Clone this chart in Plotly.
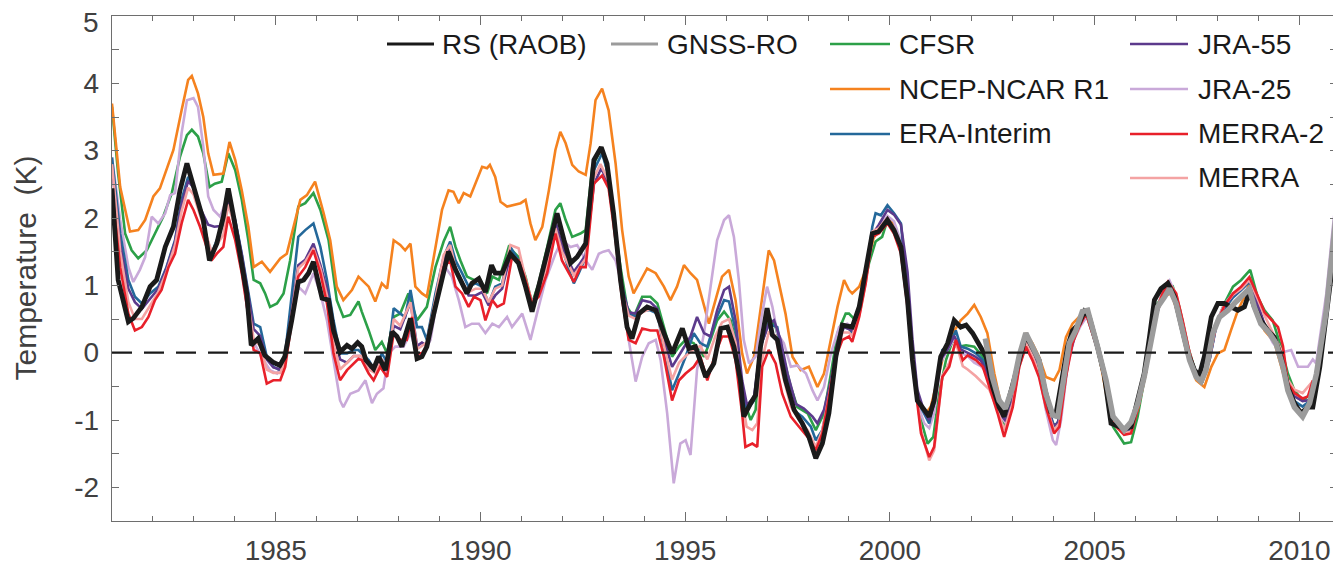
import plotly.graph_objects as go

# ---------------- data (year, temperature anomaly K) ----------------
rs_raob = [(1981.0, 2.44), (1981.15, 1.08), (1981.4, 0.46), (1981.52, 0.51), (1981.73, 0.68), (1981.93, 0.98),
    (1982.09, 1.08), (1982.3, 1.57), (1982.5, 1.87), (1982.66, 2.41), (1982.83, 2.81), (1982.95, 2.56),
    (1983.07, 2.32), (1983.23, 1.97), (1983.38, 1.37), (1983.56, 1.62), (1983.72, 2.02), (1983.84, 2.44),
    (1983.97, 2.02), (1984.13, 1.47), (1984.29, 0.88), (1984.4, 0.11), (1984.57, 0.21), (1984.73, -0.04),
    (1984.93, -0.14), (1985.1, -0.19), (1985.22, -0.06), (1985.39, 0.48), (1985.55, 1.05), (1985.68, 1.08),
    (1985.8, 1.18), (1985.92, 1.35), (1986.04, 1.08), (1986.13, 0.81), (1986.29, 0.78), (1986.41, 0.33),
    (1986.57, 0.01), (1986.74, 0.11), (1986.86, 0.06), (1987.0, 0.15), (1987.1, 0.09), (1987.2, -0.11),
    (1987.39, -0.24), (1987.51, -0.06), (1987.68, -0.26), (1987.84, 0.31), (1987.96, 0.24), (1988.08, 0.09),
    (1988.29, 0.51), (1988.45, -0.09), (1988.57, -0.06), (1988.69, 0.09), (1988.86, 0.58), (1989.06, 1.13),
    (1989.22, 1.5), (1989.39, 1.23), (1989.51, 1.08), (1989.67, 0.88), (1989.79, 1.03), (1989.96, 1.1),
    (1990.12, 0.9), (1990.27, 1.3), (1990.36, 1.18), (1990.53, 1.18), (1990.73, 1.47), (1990.93, 1.33),
    (1991.1, 0.98), (1991.26, 0.61), (1991.42, 0.98), (1991.63, 1.52), (1991.87, 2.07), (1992.04, 1.67),
    (1992.2, 1.33), (1992.36, 1.42), (1992.57, 1.62), (1992.77, 2.86), (1992.95, 3.05), (1993.09, 2.81),
    (1993.25, 2.07), (1993.42, 1.08), (1993.58, 0.38), (1993.7, 0.21), (1993.87, 0.58), (1994.07, 0.68),
    (1994.28, 0.63), (1994.48, 0.29), (1994.68, -0.01), (1994.93, 0.36), (1995.09, 0.06), (1995.25, 0.09),
    (1995.5, -0.36), (1995.7, -0.16), (1995.87, 0.36), (1996.03, 0.38), (1996.19, 0.09), (1996.35, -0.41),
    (1996.43, -0.95), (1996.6, -0.75), (1996.72, -0.63), (1996.84, 0.09), (1997.0, 0.66), (1997.13, 0.26),
    (1997.25, 0.19), (1997.45, -0.41), (1997.66, -0.85), (1997.86, -1.05), (1998.02, -1.25), (1998.19, -1.57),
    (1998.35, -1.35), (1998.51, -0.9), (1998.68, -0.06), (1998.84, 0.41), (1999.0, 0.38), (1999.08, 0.38),
    (1999.25, 0.68), (1999.41, 1.18), (1999.57, 1.77), (1999.73, 1.8), (1999.94, 1.97), (2000.1, 1.82),
    (2000.27, 1.57), (2000.43, 0.78), (2000.55, -0.11), (2000.67, -0.71), (2000.84, -0.85), (2000.96, -0.95),
    (2001.08, -0.71), (2001.24, -0.06), (2001.41, 0.14), (2001.57, 0.48), (2001.73, 0.38), (2001.86, 0.41),
    (2002.02, 0.29), (2002.18, 0.11), (2002.35, -0.06), (2002.51, -0.51), (2002.67, -0.81), (2002.79, -0.95),
    (2002.95, -0.61), (2003.16, -0.11), (2003.32, 0.26), (2003.48, 0.09), (2003.64, -0.11), (2003.77, -0.51),
    (2003.93, -0.88), (2004.05, -0.93), (2004.18, -0.51), (2004.34, 0.09), (2004.46, 0.33), (2004.62, 0.43),
    (2004.75, 0.61), (2004.87, 0.53), (2005.07, 0.09), (2005.23, -0.31), (2005.4, -1.05), (2005.56, -1.1),
    (2005.72, -1.13), (2005.89, -1.1), (2006.05, -0.71), (2006.21, -0.31), (2006.34, 0.23), (2006.46, 0.78),
    (2006.62, 0.95), (2006.79, 1.03), (2006.95, 0.83), (2007.11, 0.43), (2007.28, -0.01), (2007.44, -0.26),
    (2007.56, -0.33), (2007.68, -0.06), (2007.85, 0.53), (2008.01, 0.73), (2008.17, 0.73), (2008.33, 0.68),
    (2008.5, 0.63), (2008.66, 0.68), (2008.78, 0.9), (2008.9, 0.68), (2009.06, 0.48), (2009.23, 0.33),
    (2009.39, 0.23), (2009.55, -0.06), (2009.72, -0.51), (2009.88, -0.75), (2010.04, -0.9), (2010.21, -0.81),
    (2010.33, -0.81), (2010.5, -0.21), (2010.66, 0.58), (2010.82, 1.37), (2010.99, 2.17)]

gnss_ro = [(2002.33, 0.21), (2002.5, -0.36), (2002.67, -0.71), (2002.82, -0.83), (2003.0, -0.51), (2003.16, -0.04),
    (2003.32, 0.29), (2003.48, 0.11), (2003.64, -0.11), (2003.81, -0.61), (2003.98, -0.93), (2004.1, -0.95),
    (2004.22, -0.51), (2004.38, 0.14), (2004.54, 0.33), (2004.7, 0.61), (2004.83, 0.63), (2004.99, 0.29),
    (2005.07, 0.09), (2005.28, -0.41), (2005.45, -0.95), (2005.56, -1.03), (2005.72, -1.15), (2005.89, -1.03),
    (2006.05, -0.76), (2006.21, -0.36), (2006.38, 0.23), (2006.54, 0.68), (2006.71, 0.83), (2006.83, 0.95),
    (2006.99, 0.73), (2007.15, 0.33), (2007.32, -0.11), (2007.48, -0.36), (2007.6, -0.43), (2007.72, -0.26),
    (2007.89, 0.29), (2008.05, 0.53), (2008.26, 0.63), (2008.46, 0.76), (2008.66, 0.88), (2008.78, 0.95),
    (2008.9, 0.68), (2009.06, 0.43), (2009.27, 0.29), (2009.43, 0.14), (2009.6, -0.21), (2009.72, -0.56),
    (2009.88, -0.81), (2010.08, -0.95), (2010.25, -0.75), (2010.42, -0.31), (2010.66, 0.63), (2010.82, 1.57),
    (2011.0, 2.66)]

cfsr = [(1981.0, 3.65), (1981.15, 2.66), (1981.32, 1.77), (1981.48, 1.52), (1981.64, 1.4), (1981.85, 1.52),
    (1982.05, 1.77), (1982.25, 2.02), (1982.46, 2.37), (1982.66, 2.91), (1982.83, 3.23), (1982.95, 3.31),
    (1983.1, 3.21), (1983.23, 2.96), (1983.38, 2.46), (1983.51, 2.51), (1983.68, 2.54), (1983.84, 2.96),
    (1984.01, 2.71), (1984.17, 2.27), (1984.33, 1.67), (1984.46, 1.08), (1984.62, 1.03), (1984.74, 0.88),
    (1984.86, 0.68), (1985.03, 0.73), (1985.19, 0.88), (1985.35, 1.37), (1985.55, 2.17), (1985.72, 2.22),
    (1985.92, 2.37), (1986.09, 2.12), (1986.29, 1.67), (1986.49, 0.78), (1986.65, 0.53), (1986.82, 0.56),
    (1987.02, 0.76), (1987.1, 0.61), (1987.27, 0.33), (1987.43, 0.04), (1987.59, 0.16), (1987.72, -0.01),
    (1987.88, 0.53), (1988.04, 0.58), (1988.24, 0.88), (1988.45, 0.48), (1988.57, 0.58), (1988.69, 0.68),
    (1988.9, 1.27), (1989.1, 1.65), (1989.26, 1.87), (1989.39, 1.57), (1989.51, 1.37), (1989.67, 1.13),
    (1989.84, 1.08), (1990.0, 1.08), (1990.16, 0.88), (1990.29, 1.13), (1990.45, 1.08), (1990.69, 1.57),
    (1990.93, 1.42), (1991.1, 1.13), (1991.26, 0.73), (1991.42, 1.03), (1991.63, 1.57), (1991.83, 2.12),
    (1991.95, 2.22), (1992.08, 1.97), (1992.24, 1.72), (1992.44, 1.77), (1992.57, 1.82), (1992.73, 2.76),
    (1992.89, 2.96), (1992.97, 3.01), (1993.09, 2.71), (1993.25, 1.97), (1993.42, 1.27), (1993.58, 0.68),
    (1993.74, 0.53), (1993.95, 0.83), (1994.15, 0.83), (1994.32, 0.73), (1994.48, 0.38), (1994.68, -0.06),
    (1994.85, 0.09), (1995.01, 0.19), (1995.21, 0.14), (1995.46, -0.06), (1995.62, 0.19), (1995.78, 0.48),
    (1995.95, 0.61), (1996.11, 0.48), (1996.27, 0.09), (1996.43, -0.71), (1996.6, -1.0), (1996.72, -0.85),
    (1996.84, 0.09), (1997.04, 0.53), (1997.21, 0.38), (1997.37, -0.01), (1997.58, -0.51), (1997.74, -0.81),
    (1997.99, -0.9), (1998.19, -1.15), (1998.39, -0.9), (1998.56, -0.31), (1998.72, 0.29), (1998.92, 0.58),
    (1999.0, 0.58), (1999.16, 0.48), (1999.33, 0.88), (1999.49, 1.33), (1999.65, 1.65), (1999.81, 1.72),
    (1999.94, 1.97), (2000.1, 1.85), (2000.27, 1.62), (2000.43, 0.78), (2000.59, -0.31), (2000.76, -1.0),
    (2000.92, -1.35), (2001.06, -1.25), (2001.2, -0.61), (2001.37, -0.11), (2001.54, 0.19), (2001.7, 0.09),
    (2001.86, 0.11), (2002.06, 0.09), (2002.27, -0.06), (2002.43, -0.31), (2002.59, -0.71), (2002.75, -1.0),
    (2002.84, -1.1), (2003.0, -0.71), (2003.16, -0.11), (2003.32, 0.21), (2003.48, 0.04), (2003.64, -0.21),
    (2003.81, -0.71), (2003.98, -1.05), (2004.1, -1.1), (2004.22, -0.71), (2004.38, -0.01), (2004.54, 0.29),
    (2004.7, 0.51), (2004.83, 0.56), (2004.99, 0.24), (2005.07, 0.04), (2005.28, -0.51), (2005.45, -1.1),
    (2005.72, -1.35), (2005.89, -1.33), (2006.05, -0.95), (2006.21, -0.41), (2006.38, 0.23), (2006.54, 0.73),
    (2006.75, 0.93), (2006.91, 0.98), (2007.07, 0.68), (2007.28, 0.09), (2007.48, -0.31), (2007.64, -0.41),
    (2007.81, -0.06), (2007.97, 0.43), (2008.17, 0.73), (2008.38, 0.98), (2008.58, 1.08), (2008.8, 1.23),
    (2008.98, 0.83), (2009.15, 0.63), (2009.35, 0.48), (2009.55, 0.09), (2009.72, -0.31), (2009.88, -0.56),
    (2010.08, -0.71), (2010.29, -0.61), (2010.5, -0.16), (2010.66, 0.63), (2010.82, 1.42), (2010.99, 2.22)]

ncep_ncar_r1 = [(1981.0, 3.7), (1981.2, 2.46), (1981.44, 1.8), (1981.64, 1.82), (1981.81, 1.97), (1982.01, 2.32),
    (1982.17, 2.44), (1982.33, 2.71), (1982.5, 3.01), (1982.7, 3.6), (1982.86, 4.05), (1982.95, 4.11),
    (1983.1, 3.85), (1983.23, 3.5), (1983.35, 2.96), (1983.48, 2.64), (1983.72, 2.66), (1983.87, 3.13),
    (1984.01, 2.86), (1984.17, 2.41), (1984.33, 1.87), (1984.46, 1.27), (1984.66, 1.35), (1984.86, 1.2),
    (1985.11, 1.4), (1985.27, 1.47), (1985.43, 1.85), (1985.6, 2.27), (1985.76, 2.34), (1985.96, 2.54),
    (1986.17, 2.07), (1986.33, 1.67), (1986.49, 0.98), (1986.65, 0.78), (1986.86, 0.93), (1987.02, 1.13),
    (1987.27, 0.98), (1987.43, 0.76), (1987.59, 1.03), (1987.72, 0.95), (1987.88, 1.67), (1988.04, 1.6),
    (1988.16, 1.52), (1988.29, 1.62), (1988.41, 0.98), (1988.57, 0.88), (1988.69, 0.83), (1988.9, 1.57),
    (1989.06, 2.12), (1989.22, 2.41), (1989.34, 2.39), (1989.47, 2.22), (1989.59, 2.37), (1989.75, 2.32),
    (1989.88, 2.51), (1990.04, 2.76), (1990.16, 2.74), (1990.23, 2.79), (1990.36, 2.61), (1990.49, 2.24),
    (1990.65, 2.17), (1990.81, 2.19), (1990.98, 2.22), (1991.1, 2.27), (1991.22, 1.92), (1991.34, 1.67),
    (1991.51, 1.87), (1991.67, 2.41), (1991.83, 3.01), (1991.95, 3.28), (1992.08, 3.11), (1992.24, 2.79),
    (1992.4, 2.69), (1992.57, 2.64), (1992.69, 3.11), (1992.81, 3.75), (1992.97, 3.92), (1993.13, 3.6),
    (1993.3, 2.81), (1993.46, 1.82), (1993.62, 1.13), (1993.74, 0.88), (1993.91, 1.08), (1994.07, 1.25),
    (1994.28, 1.18), (1994.48, 0.98), (1994.64, 0.78), (1994.8, 0.98), (1994.97, 1.3), (1995.13, 1.18),
    (1995.29, 1.08), (1995.46, 0.68), (1995.58, 0.43), (1995.74, 0.78), (1995.9, 1.13), (1996.07, 1.23),
    (1996.23, 0.78), (1996.39, -0.01), (1996.51, -0.31), (1996.68, -0.06), (1996.84, 0.68), (1997.04, 1.52),
    (1997.17, 1.37), (1997.29, 1.03), (1997.45, 0.58), (1997.62, -0.06), (1997.82, -0.26), (1998.02, -0.21),
    (1998.23, -0.51), (1998.39, -0.31), (1998.56, 0.19), (1998.72, 0.68), (1998.88, 1.08), (1999.0, 0.93),
    (1999.08, 0.88), (1999.25, 0.98), (1999.41, 1.23), (1999.6, 1.7), (1999.75, 1.85), (1999.94, 2.0),
    (2000.1, 1.9), (2000.27, 1.55), (2000.43, 0.8), (2000.55, -0.16), (2000.7, -0.7), (2000.88, -0.9),
    (2001.0, -0.8), (2001.28, -0.11), (2001.54, 0.29), (2001.73, 0.48), (2001.9, 0.58), (2002.06, 0.71),
    (2002.22, 0.53), (2002.38, 0.29), (2002.55, -0.31), (2002.71, -0.76), (2002.84, -0.85), (2003.0, -0.46),
    (2003.16, -0.06), (2003.32, 0.29), (2003.48, 0.14), (2003.64, -0.06), (2003.81, -0.36), (2004.01, -0.41),
    (2004.14, -0.26), (2004.3, 0.23), (2004.46, 0.43), (2004.62, 0.53), (2004.79, 0.61), (2004.99, 0.24),
    (2005.07, 0.09), (2005.4, -1.0), (2005.72, -1.18), (2006.05, -0.86), (2006.25, -0.31), (2006.46, 0.48),
    (2006.66, 0.83), (2006.87, 0.88), (2007.07, 0.53), (2007.28, -0.01), (2007.48, -0.41), (2007.68, -0.51),
    (2007.85, -0.21), (2008.01, -0.01), (2008.17, 0.04), (2008.33, 0.33), (2008.5, 0.63), (2008.66, 0.83),
    (2008.78, 1.03), (2008.94, 0.63), (2009.15, 0.33), (2009.39, 0.16), (2009.6, -0.31), (2009.72, -0.56),
    (2009.88, -0.76), (2010.08, -0.9), (2010.29, -0.66), (2010.5, -0.21), (2010.66, 0.53), (2010.82, 1.37),
    (2010.99, 2.1)]

era_interim = [(1981.0, 2.9), (1981.2, 1.77), (1981.4, 1.08), (1981.56, 0.83), (1981.73, 0.73), (1981.93, 0.88),
    (1982.13, 0.98), (1982.33, 1.27), (1982.54, 1.67), (1982.7, 2.27), (1982.86, 2.61), (1982.99, 2.46),
    (1983.15, 2.12), (1983.31, 1.72), (1983.43, 1.47), (1983.56, 1.67), (1983.72, 1.92), (1983.84, 2.27),
    (1984.01, 1.97), (1984.17, 1.47), (1984.33, 0.88), (1984.46, 0.43), (1984.62, 0.38), (1984.78, -0.06),
    (1984.94, -0.21), (1985.11, -0.26), (1985.23, -0.01), (1985.39, 0.88), (1985.55, 1.72), (1985.72, 1.82),
    (1985.92, 1.92), (1986.09, 1.57), (1986.25, 1.08), (1986.41, 0.48), (1986.57, -0.01), (1986.74, -0.01),
    (1986.9, 0.04), (1987.02, 0.04), (1987.1, -0.01), (1987.27, -0.11), (1987.43, -0.28), (1987.59, -0.01),
    (1987.72, -0.14), (1987.88, 0.66), (1988.04, 0.58), (1988.16, 0.53), (1988.29, 0.93), (1988.45, 0.38),
    (1988.57, 0.38), (1988.69, 0.19), (1988.9, 0.88), (1989.1, 1.42), (1989.26, 1.65), (1989.39, 1.37),
    (1989.55, 1.18), (1989.71, 0.98), (1989.88, 1.03), (1990.04, 0.98), (1990.2, 0.73), (1990.36, 0.98),
    (1990.53, 1.03), (1990.73, 1.57), (1990.93, 1.37), (1991.1, 1.03), (1991.26, 0.76), (1991.42, 0.88),
    (1991.63, 1.27), (1991.83, 1.92), (1991.99, 1.57), (1992.16, 1.23), (1992.28, 1.03), (1992.4, 1.18),
    (1992.57, 1.42), (1992.77, 2.71), (1992.93, 2.91), (1992.97, 2.96), (1993.13, 2.63), (1993.3, 1.77),
    (1993.46, 0.98), (1993.62, 0.58), (1993.79, 0.53), (1993.95, 0.63), (1994.15, 0.63), (1994.32, 0.58),
    (1994.48, 0.09), (1994.68, -0.56), (1994.85, -0.31), (1995.01, -0.06), (1995.21, 0.29), (1995.37, 0.14),
    (1995.54, 0.09), (1995.74, 0.48), (1995.95, 0.78), (1996.07, 0.76), (1996.23, 0.33), (1996.39, -0.51),
    (1996.51, -0.86), (1996.68, -0.71), (1996.84, 0.09), (1997.04, 0.43), (1997.25, 0.38), (1997.45, -0.31),
    (1997.66, -0.86), (1997.86, -0.95), (1998.07, -1.1), (1998.19, -1.3), (1998.35, -1.15), (1998.51, -0.66),
    (1998.68, -0.01), (1998.84, 0.38), (1999.0, 0.36), (1999.08, 0.29), (1999.25, 0.58), (1999.41, 1.13),
    (1999.57, 1.87), (1999.65, 2.07), (1999.78, 2.04), (1999.94, 2.19), (2000.1, 2.07), (2000.27, 1.92),
    (2000.43, 0.88), (2000.55, -0.11), (2000.67, -0.71), (2000.84, -0.9), (2000.96, -1.05), (2001.08, -0.71),
    (2001.28, 0.04), (2001.45, 0.11), (2001.61, 0.33), (2001.73, 0.09), (2001.9, 0.06), (2002.1, -0.01),
    (2002.27, -0.11), (2002.43, -0.41), (2002.63, -0.81), (2002.79, -0.98), (2003.0, -0.61), (2003.16, -0.06),
    (2003.32, 0.24), (2003.48, 0.04), (2003.64, -0.21), (2003.81, -0.71), (2004.01, -1.1), (2004.14, -1.0),
    (2004.3, -0.26), (2004.46, 0.24), (2004.62, 0.43), (2004.79, 0.58), (2004.99, 0.19), (2005.07, 0.05),
    (2005.28, -0.45), (2005.45, -1.05), (2005.72, -1.18), (2005.89, -1.15), (2006.05, -0.78), (2006.25, -0.3),
    (2006.46, 0.5), (2006.66, 0.85), (2006.83, 0.98), (2006.99, 0.8), (2007.15, 0.4), (2007.32, -0.05),
    (2007.48, -0.35), (2007.64, -0.42), (2007.81, -0.1), (2007.97, 0.4), (2008.17, 0.65), (2008.38, 0.82),
    (2008.58, 0.93), (2008.78, 1.05), (2008.98, 0.7), (2009.15, 0.4), (2009.35, 0.2), (2009.55, -0.05),
    (2009.72, -0.5), (2009.88, -0.72), (2010.08, -0.8), (2010.29, -0.7), (2010.5, -0.2), (2010.66, 0.6),
    (2010.82, 1.45), (2010.99, 2.3)]

jra_55 = [(1981.0, 2.75), (1981.2, 1.6), (1981.4, 0.95), (1981.56, 0.75), (1981.73, 0.65), (1981.93, 0.8),
    (1982.13, 0.95), (1982.33, 1.25), (1982.54, 1.65), (1982.7, 2.2), (1982.86, 2.55), (1982.99, 2.45),
    (1983.15, 2.15), (1983.35, 1.9), (1983.5, 1.87), (1983.64, 1.88), (1983.84, 2.25), (1984.01, 1.95),
    (1984.17, 1.45), (1984.33, 0.85), (1984.46, 0.35), (1984.62, 0.25), (1984.78, -0.1), (1984.94, -0.22),
    (1985.11, -0.25), (1985.23, -0.05), (1985.39, 0.6), (1985.55, 1.3), (1985.72, 1.38), (1985.92, 1.62),
    (1986.09, 1.3), (1986.25, 0.95), (1986.41, 0.3), (1986.57, -0.1), (1986.74, -0.15), (1986.9, -0.05),
    (1987.1, -0.05), (1987.27, -0.2), (1987.43, -0.3), (1987.59, -0.1), (1987.72, -0.25), (1987.88, 0.4),
    (1988.04, 0.35), (1988.29, 0.75), (1988.45, 0.1), (1988.57, 0.15), (1988.69, 0.1), (1988.9, 0.75),
    (1989.1, 1.35), (1989.26, 1.55), (1989.39, 1.25), (1989.55, 1.05), (1989.71, 0.85), (1989.88, 0.85),
    (1990.04, 0.9), (1990.2, 0.7), (1990.36, 0.85), (1990.53, 0.95), (1990.73, 1.45), (1990.93, 1.35),
    (1991.1, 1.0), (1991.26, 0.7), (1991.42, 0.9), (1991.63, 1.35), (1991.83, 1.95), (1991.99, 1.6),
    (1992.16, 1.35), (1992.28, 1.2), (1992.4, 1.3), (1992.57, 1.45), (1992.77, 2.5), (1992.95, 2.74),
    (1993.13, 2.5), (1993.3, 1.75), (1993.46, 0.95), (1993.62, 0.6), (1993.79, 0.58), (1993.95, 0.78),
    (1994.15, 0.75), (1994.32, 0.65), (1994.48, 0.2), (1994.68, -0.21), (1994.93, 0.04), (1995.13, 0.24),
    (1995.29, 0.53), (1995.46, 0.29), (1995.62, 0.24), (1995.78, 0.63), (1995.95, 0.93), (1996.07, 0.98),
    (1996.23, 0.48), (1996.39, -0.41), (1996.51, -0.78), (1996.68, -0.66), (1996.84, 0.09), (1997.04, 0.43),
    (1997.17, 0.48), (1997.33, 0.19), (1997.5, -0.31), (1997.7, -0.76), (1997.9, -0.83), (1998.11, -0.95),
    (1998.23, -1.05), (1998.39, -0.85), (1998.56, -0.41), (1998.72, 0.14), (1998.88, 0.38), (1999.08, 0.33),
    (1999.25, 0.6), (1999.41, 1.1), (1999.57, 1.75), (1999.73, 1.9), (1999.94, 2.12), (2000.1, 2.05),
    (2000.27, 1.9), (2000.43, 1.2), (2000.55, 0.2), (2000.67, -0.55), (2000.84, -0.88), (2000.96, -1.0),
    (2001.08, -0.75), (2001.24, -0.1), (2001.41, 0.05), (2001.57, 0.25), (2001.73, 0.05), (2001.9, 0.0),
    (2002.06, -0.05), (2002.22, -0.12), (2002.38, -0.3), (2002.55, -0.6), (2002.71, -0.92), (2002.84, -1.02),
    (2003.0, -0.7), (2003.16, -0.15), (2003.32, 0.2), (2003.48, 0.05), (2003.64, -0.2), (2003.81, -0.7),
    (2003.98, -1.08), (2004.1, -1.05), (2004.22, -0.6), (2004.38, -0.05), (2004.54, 0.3), (2004.7, 0.5),
    (2004.83, 0.58), (2004.99, 0.22), (2005.07, 0.08), (2005.28, -0.42), (2005.45, -1.0), (2005.72, -1.15),
    (2005.89, -1.12), (2006.05, -0.8), (2006.25, -0.3), (2006.46, 0.45), (2006.66, 0.85), (2006.83, 0.97),
    (2006.99, 0.8), (2007.15, 0.42), (2007.32, -0.02), (2007.48, -0.33), (2007.64, -0.4), (2007.81, -0.1),
    (2007.97, 0.4), (2008.17, 0.68), (2008.38, 0.85), (2008.58, 0.95), (2008.78, 1.08), (2008.98, 0.72),
    (2009.15, 0.42), (2009.35, 0.22), (2009.55, -0.05), (2009.72, -0.45), (2009.88, -0.65), (2010.08, -0.72),
    (2010.29, -0.7), (2010.5, -0.2), (2010.66, 0.6), (2010.82, 1.45), (2010.99, 2.3)]

jra_25 = [(1981.0, 2.9), (1981.2, 1.97), (1981.4, 1.27), (1981.52, 1.05), (1981.68, 1.23), (1981.81, 1.42),
    (1981.97, 2.02), (1982.13, 1.92), (1982.3, 2.07), (1982.42, 2.34), (1982.54, 2.37), (1982.7, 3.26),
    (1982.83, 3.75), (1982.99, 3.78), (1983.1, 3.65), (1983.23, 3.06), (1983.35, 2.32), (1983.48, 2.12),
    (1983.64, 2.02), (1983.8, 2.27), (1983.92, 2.07), (1984.09, 1.57), (1984.25, 0.88), (1984.4, 0.23),
    (1984.62, -0.03), (1984.86, -0.26), (1985.03, -0.31), (1985.19, -0.11), (1985.39, 0.58), (1985.55, 0.98),
    (1985.72, 0.88), (1985.92, 1.18), (1986.09, 0.88), (1986.25, 0.48), (1986.41, -0.11), (1986.57, -0.71),
    (1986.65, -0.81), (1986.82, -0.61), (1987.02, -0.56), (1987.19, -0.41), (1987.35, -0.75), (1987.47, -0.61),
    (1987.63, -0.53), (1987.76, -0.01), (1987.92, 0.09), (1988.12, 0.09), (1988.29, 0.29), (1988.45, -0.01),
    (1988.61, -0.01), (1988.78, 0.19), (1988.94, 0.78), (1989.14, 1.27), (1989.3, 1.13), (1989.47, 0.78),
    (1989.63, 0.38), (1989.79, 0.43), (1989.96, 0.43), (1990.12, 0.29), (1990.29, 0.43), (1990.45, 0.38),
    (1990.65, 0.53), (1990.77, 0.38), (1991.02, 0.58), (1991.22, 0.19), (1991.38, 0.58), (1991.59, 1.08),
    (1991.83, 1.47), (1991.99, 1.67), (1992.2, 1.57), (1992.36, 1.6), (1992.57, 1.37), (1992.73, 1.23),
    (1992.89, 1.47), (1993.0, 1.5), (1993.13, 1.52), (1993.3, 1.37), (1993.46, 0.98), (1993.62, 0.19),
    (1993.79, -0.43), (1993.95, -0.06), (1994.11, 0.14), (1994.28, 0.19), (1994.4, -0.11), (1994.56, -0.9),
    (1994.72, -1.94), (1994.88, -1.35), (1995.01, -1.3), (1995.13, -1.52), (1995.29, -0.25), (1995.46, 0.29),
    (1995.62, 0.98), (1995.78, 1.67), (1995.95, 1.97), (1996.07, 2.04), (1996.19, 1.72), (1996.31, 1.08),
    (1996.43, 0.19), (1996.56, -0.16), (1996.72, -0.06), (1996.88, 0.58), (1997.0, 0.98), (1997.13, 0.68),
    (1997.25, 0.29), (1997.41, 0.14), (1997.58, -0.21), (1997.74, -0.19), (1997.95, -0.31), (1998.11, -0.56),
    (1998.23, -0.71), (1998.39, -0.51), (1998.56, -0.01), (1998.76, 0.38), (1998.96, 0.43), (1999.08, 0.38),
    (1999.25, 0.6), (1999.41, 1.1), (1999.57, 1.7), (1999.73, 1.85), (1999.94, 2.03), (2000.1, 1.95),
    (2000.27, 1.65), (2000.43, 0.85), (2000.55, -0.1), (2000.67, -0.75), (2000.84, -1.05), (2000.96, -1.12),
    (2001.08, -0.9), (2001.24, -0.15), (2001.41, 0.05), (2001.57, 0.2), (2001.73, 0.0), (2001.9, -0.05),
    (2002.06, -0.15), (2002.22, -0.2), (2002.38, -0.3), (2002.55, -0.55), (2002.71, -0.95), (2002.84, -1.05),
    (2003.0, -0.75), (2003.16, -0.2), (2003.32, 0.1), (2003.48, 0.0), (2003.64, -0.3), (2003.81, -0.85),
    (2003.98, -1.3), (2004.06, -1.37), (2004.18, -1.0), (2004.34, -0.2), (2004.5, 0.2), (2004.66, 0.4),
    (2004.83, 0.55), (2004.99, 0.2), (2005.07, 0.05), (2005.28, -0.5), (2005.45, -1.05), (2005.72, -1.18),
    (2005.89, -1.15), (2006.05, -0.8), (2006.25, -0.25), (2006.46, 0.5), (2006.66, 0.93), (2006.83, 1.07),
    (2006.99, 0.85), (2007.15, 0.45), (2007.32, -0.05), (2007.48, -0.35), (2007.64, -0.4), (2007.8, -0.1),
    (2007.97, 0.45), (2008.17, 0.72), (2008.38, 0.88), (2008.58, 0.98), (2008.78, 1.1), (2008.98, 0.75),
    (2009.15, 0.4), (2009.35, 0.15), (2009.55, 0.0), (2009.8, 0.04), (2009.97, -0.21), (2010.21, -0.21),
    (2010.33, -0.1), (2010.41, -0.16), (2010.66, 0.88), (2010.82, 1.87), (2010.99, 2.76)]

merra_2 = [(1981.0, 2.4), (1981.2, 1.27), (1981.4, 0.58), (1981.56, 0.33), (1981.73, 0.38), (1981.89, 0.53),
    (1982.05, 0.78), (1982.21, 0.93), (1982.38, 1.27), (1982.54, 1.47), (1982.7, 1.92), (1982.86, 2.27),
    (1982.99, 2.12), (1983.15, 1.87), (1983.31, 1.57), (1983.43, 1.37), (1983.56, 1.47), (1983.72, 1.57),
    (1983.84, 2.02), (1984.01, 1.67), (1984.17, 1.18), (1984.33, 0.58), (1984.46, 0.04), (1984.62, -0.01),
    (1984.78, -0.46), (1984.94, -0.41), (1985.11, -0.41), (1985.23, -0.21), (1985.39, 0.48), (1985.55, 1.13),
    (1985.72, 1.27), (1985.92, 1.52), (1986.09, 1.18), (1986.25, 0.73), (1986.41, -0.01), (1986.57, -0.41),
    (1986.74, -0.26), (1986.9, -0.16), (1987.02, -0.09), (1987.1, -0.11), (1987.27, -0.31), (1987.39, -0.41),
    (1987.55, -0.21), (1987.72, -0.36), (1987.88, 0.29), (1988.04, 0.19), (1988.2, 0.19), (1988.33, 0.53),
    (1988.45, -0.01), (1988.57, -0.01), (1988.69, 0.09), (1988.9, 0.68), (1989.1, 1.27), (1989.26, 1.37),
    (1989.39, 0.98), (1989.55, 0.88), (1989.71, 0.68), (1989.84, 0.83), (1990.0, 0.78), (1990.12, 0.48),
    (1990.29, 0.78), (1990.41, 0.68), (1990.57, 0.73), (1990.77, 1.42), (1990.93, 1.37), (1991.1, 1.08),
    (1991.26, 0.73), (1991.42, 0.83), (1991.63, 1.18), (1991.83, 1.77), (1991.99, 1.37), (1992.16, 1.18),
    (1992.28, 1.05), (1992.44, 1.27), (1992.57, 1.27), (1992.77, 2.51), (1992.93, 2.61), (1992.97, 2.63),
    (1993.13, 2.44), (1993.3, 1.67), (1993.46, 0.78), (1993.62, 0.19), (1993.79, 0.14), (1993.95, 0.36),
    (1994.15, 0.33), (1994.32, 0.33), (1994.48, -0.06), (1994.68, -0.71), (1994.85, -0.41), (1995.01, -0.31),
    (1995.21, -0.21), (1995.37, -0.06), (1995.54, -0.41), (1995.74, -0.01), (1995.9, 0.24), (1996.07, 0.24),
    (1996.23, -0.11), (1996.39, -0.9), (1996.47, -1.4), (1996.64, -1.35), (1996.76, -1.4), (1996.88, -0.21),
    (1997.04, 0.04), (1997.21, -0.16), (1997.37, -0.61), (1997.58, -0.95), (1997.78, -1.1), (1997.99, -1.25),
    (1998.19, -1.45), (1998.35, -1.2), (1998.51, -0.66), (1998.68, -0.06), (1998.84, 0.19), (1999.0, 0.24),
    (1999.08, 0.16), (1999.25, 0.53), (1999.41, 1.03), (1999.57, 1.72), (1999.73, 1.77), (1999.94, 1.92),
    (2000.1, 1.77), (2000.27, 1.47), (2000.43, 0.68), (2000.59, -0.36), (2000.76, -1.2), (2000.96, -1.55),
    (2001.08, -1.4), (2001.28, -0.36), (2001.45, -0.21), (2001.61, 0.19), (2001.78, -0.11), (2001.9, -0.04),
    (2002.1, -0.11), (2002.27, -0.21), (2002.43, -0.51), (2002.63, -0.9), (2002.79, -1.25), (2003.0, -0.81),
    (2003.16, -0.21), (2003.32, 0.09), (2003.48, -0.11), (2003.64, -0.36), (2003.81, -0.81), (2004.01, -1.2),
    (2004.14, -1.1), (2004.3, -0.36), (2004.46, 0.14), (2004.62, 0.38), (2004.79, 0.58), (2004.99, 0.19),
    (2005.07, 0.05), (2005.28, -0.5), (2005.45, -1.05), (2005.72, -1.22), (2005.89, -1.2), (2006.05, -0.85),
    (2006.25, -0.3), (2006.46, 0.55), (2006.66, 0.88), (2006.79, 1.05), (2006.99, 0.88), (2007.15, 0.48),
    (2007.32, 0.0), (2007.48, -0.33), (2007.64, -0.38), (2007.81, -0.05), (2007.97, 0.42), (2008.17, 0.7),
    (2008.38, 0.88), (2008.58, 0.98), (2008.78, 1.12), (2008.98, 0.85), (2009.15, 0.6), (2009.48, 0.38),
    (2009.6, 0.1), (2009.72, -0.45), (2009.88, -0.6), (2010.08, -0.68), (2010.21, -0.65), (2010.33, -0.41),
    (2010.41, -0.55), (2010.5, -0.2), (2010.66, 0.55), (2010.82, 1.4), (2010.99, 2.25)]

merra = [(1981.0, 2.8), (1981.2, 1.5), (1981.4, 0.75), (1981.56, 0.5), (1981.73, 0.5), (1981.93, 0.7),
    (1982.13, 0.9), (1982.33, 1.2), (1982.54, 1.6), (1982.7, 2.1), (1982.86, 2.45), (1982.99, 2.35),
    (1983.15, 2.05), (1983.31, 1.75), (1983.43, 1.5), (1983.56, 1.6), (1983.72, 1.75), (1983.84, 2.2),
    (1984.01, 1.85), (1984.17, 1.35), (1984.33, 0.75), (1984.46, 0.2), (1984.62, 0.1), (1984.78, -0.25),
    (1984.94, -0.3), (1985.11, -0.3), (1985.23, -0.1), (1985.39, 0.6), (1985.55, 1.25), (1985.72, 1.35),
    (1985.92, 1.55), (1986.09, 1.25), (1986.25, 0.85), (1986.41, 0.15), (1986.57, -0.25), (1986.74, -0.15),
    (1986.9, -0.05), (1987.1, -0.05), (1987.27, -0.25), (1987.43, -0.3), (1987.59, -0.1), (1987.72, -0.25),
    (1987.88, 0.5), (1988.04, 0.4), (1988.29, 0.75), (1988.45, 0.05), (1988.57, 0.1), (1988.69, 0.15),
    (1988.9, 0.8), (1989.1, 1.45), (1989.26, 1.6), (1989.39, 1.25), (1989.55, 1.05), (1989.71, 0.9),
    (1989.88, 0.95), (1990.04, 0.95), (1990.2, 0.75), (1990.36, 0.95), (1990.53, 1.0), (1990.73, 1.6),
    (1990.93, 1.55), (1991.1, 1.1), (1991.26, 0.75), (1991.42, 0.9), (1991.63, 1.3), (1991.83, 1.85),
    (1991.99, 1.5), (1992.16, 1.3), (1992.28, 1.15), (1992.4, 1.25), (1992.57, 1.4), (1992.77, 2.6),
    (1992.93, 2.8), (1993.13, 2.55), (1993.3, 1.75), (1993.46, 0.9), (1993.62, 0.55), (1993.79, 0.5),
    (1993.95, 0.6), (1994.15, 0.65), (1994.32, 0.6), (1994.48, 0.1), (1994.68, -0.4), (1994.85, -0.15),
    (1995.01, -0.05), (1995.21, 0.05), (1995.37, 0.1), (1995.54, -0.1), (1995.74, 0.25), (1995.9, 0.45),
    (1996.07, 0.5), (1996.23, 0.15), (1996.39, -0.7), (1996.5, -1.1), (1996.64, -1.15), (1996.76, -1.05),
    (1996.88, -0.1), (1997.04, 0.3), (1997.21, 0.25), (1997.37, -0.3), (1997.58, -0.8), (1997.78, -1.0),
    (1997.99, -1.15), (1998.19, -1.4), (1998.35, -1.15), (1998.51, -0.65), (1998.68, -0.05), (1998.84, 0.3),
    (1999.0, 0.3), (1999.08, 0.25), (1999.25, 0.55), (1999.41, 1.05), (1999.57, 1.8), (1999.73, 1.85),
    (1999.94, 2.0), (2000.1, 1.85), (2000.27, 1.6), (2000.43, 0.75), (2000.59, -0.3), (2000.76, -1.15),
    (2000.96, -1.6), (2001.08, -1.45), (2001.28, -0.35), (2001.45, -0.15), (2001.61, 0.15), (2001.78, -0.2),
    (2001.9, -0.25), (2002.1, -0.35), (2002.27, -0.45), (2002.43, -0.55), (2002.63, -0.85), (2002.79, -1.15),
    (2003.0, -0.75), (2003.16, -0.2), (2003.32, 0.15), (2003.48, -0.05), (2003.64, -0.3), (2003.81, -0.8),
    (2004.01, -1.15), (2004.14, -1.05), (2004.3, -0.3), (2004.46, 0.2), (2004.62, 0.42), (2004.79, 0.6),
    (2004.99, 0.2), (2005.07, 0.05), (2005.28, -0.48), (2005.45, -1.05), (2005.72, -1.2), (2005.89, -1.17),
    (2006.05, -0.82), (2006.25, -0.3), (2006.46, 0.52), (2006.66, 0.9), (2006.79, 1.05), (2006.99, 0.88),
    (2007.15, 0.45), (2007.32, 0.0), (2007.48, -0.33), (2007.64, -0.38), (2007.81, -0.05), (2007.97, 0.42),
    (2008.17, 0.7), (2008.38, 0.86), (2008.58, 0.95), (2008.78, 1.08), (2008.98, 0.8), (2009.15, 0.55),
    (2009.35, 0.3), (2009.55, 0.05), (2009.72, -0.4), (2009.88, -0.55), (2010.08, -0.6), (2010.29, -0.45),
    (2010.41, -0.5), (2010.5, -0.2), (2010.66, 0.55), (2010.82, 1.4), (2010.99, 2.25)]

x_tick_years = [1985, 1990, 1995, 2000, 2005, 2010]
y_tick_values = [-2.5, -2, -1.5, -1, -0.5, 0, 0.5, 1, 1.5, 2, 2.5, 3, 3.5, 4, 4.5, 5]
# the top label "5" sits slightly lower (kept inside the figure), drawn separately below
y_tick_labels = ["", "-2", "", "-1", "", "0", "", "1", "", "2", "", "3", "", "4", "", ""]
top_y_label = "5"

# ---------------- styling ----------------
FONT = "Liberation Sans, Arial, Helvetica, sans-serif"
OFF = 8                      # page body margin in the browser
W, H = 1341 - OFF, 570 - OFF
L, R, T, B = 112 - OFF, 4, 16 - OFF, 49
PW, PH = W - L - R, H - T - B

series = [  # name, data, color, width
    ("CFSR", cfsr, "#2ca048", 2.6),
    ("NCEP-NCAR R1", ncep_ncar_r1, "#f5821f", 2.6),
    ("JRA-25", jra_25, "#c9a9d9", 2.6),
    ("ERA-Interim", era_interim, "#24689a", 2.6),
    ("JRA-55", jra_55, "#5c3a8c", 2.6),
    ("MERRA", merra, "#f4a3a3", 2.6),
    ("MERRA-2", merra_2, "#e8202a", 2.6),
    ("RS (RAOB)", rs_raob, "#1a1a1a", 4.8),
    ("GNSS-RO", gnss_ro, "#9b9b9b", 5.5),
]

fig = go.Figure()
for name, data, color, width in series:
    xs = [p[0] for p in data]
    ys = [p[1] for p in data]
    fig.add_trace(go.Scatter(x=xs, y=ys, mode="lines", name=name,
                             line=dict(color=color, width=width), showlegend=False))

# zero reference line
fig.add_shape(type="line", xref="paper", yref="y", x0=0, x1=1, y0=0, y1=0,
              line=dict(color="#1a1a1a", width=2.4, dash="20px,12px"), layer="above")

# ---------------- custom legend (MATLAB-style 4-column layout) ----------------
def px_x(px):   # page pixel -> paper x
    return (px - OFF - L) / PW

def px_y(py):   # page pixel -> paper y
    return (H - B - (py - OFF)) / PH

legend_items = [  # name, color, line x0, line x1, text x, row y, line width
    ("RS (RAOB)", "#1a1a1a", 387, 434, 440, 44, 3.2),
    ("GNSS-RO", "#9b9b9b", 611, 658, 665, 44, 3.2),
    ("CFSR", "#2ca048", 830, 890, 897, 44, 2.6),
    ("NCEP-NCAR R1", "#f5821f", 830, 890, 897, 89, 2.6),
    ("ERA-Interim", "#24689a", 830, 890, 897, 134, 2.6),
    ("JRA-55", "#5c3a8c", 1130, 1188, 1196, 44, 2.6),
    ("JRA-25", "#c9a9d9", 1130, 1188, 1196, 89, 2.6),
    ("MERRA-2", "#e8202a", 1130, 1188, 1196, 134, 2.6),
    ("MERRA", "#f4a3a3", 1130, 1188, 1196, 178, 2.6),
]
for name, color, lx0, lx1, tx, ry, lw in legend_items:
    fig.add_shape(type="line", xref="paper", yref="paper",
                  x0=px_x(lx0), x1=px_x(lx1), y0=px_y(ry), y1=px_y(ry),
                  line=dict(color=color, width=lw))
    fig.add_annotation(xref="paper", yref="paper", x=px_x(tx), y=px_y(ry),
                       text=name, showarrow=False, xanchor="left", yanchor="middle",
                       font=dict(family=FONT, size=28, color="#1a1a1a"))

# top y tick label, nudged inside the figure as in the original
fig.add_annotation(xref="paper", yref="paper", x=px_x(101), y=px_y(22), text=top_y_label,
                   showarrow=False, xanchor="right", yanchor="middle",
                   font=dict(family=FONT, size=28, color="#404040"))

# y-axis title
fig.add_annotation(xref="paper", yref="paper", x=px_x(25), y=0.5, text="Temperature  (K)",
                   textangle=-90, showarrow=False, xanchor="center", yanchor="middle",
                   font=dict(family=FONT, size=30, color="#404040"))

axis_color = "#6e6e6e"
fig.update_layout(
    width=W, height=H,
    margin=dict(l=L, r=R, t=T, b=B, autoexpand=False),
    paper_bgcolor="white", plot_bgcolor="white",
    showlegend=False,
    font=dict(family=FONT, size=28, color="#404040"),
    xaxis=dict(range=[1981, 2010.92], showgrid=False, zeroline=False, automargin=False,
               showline=True, linecolor=axis_color, linewidth=1.4, mirror="ticks",
               ticks="inside", ticklen=9, tickwidth=1.4, tickcolor=axis_color,
               tickvals=x_tick_years, ticktext=[str(v) for v in x_tick_years],
               tickfont=dict(family=FONT, size=28, color="#404040"),
               ticklabelstandoff=4, ticklabeloverflow="allow",
               minor=dict(dtick=1, tick0=1981, ticks="inside", ticklen=5,
                          tickwidth=1.4, tickcolor=axis_color, showgrid=False)),
    yaxis=dict(range=[-2.5, 5], showgrid=False, zeroline=False, automargin=False,
               showline=True, linecolor=axis_color, linewidth=1.4, mirror="ticks",
               ticks="inside", ticklen=7, tickwidth=1.4, tickcolor=axis_color,
               tickvals=y_tick_values, ticktext=y_tick_labels,
               tickfont=dict(family=FONT, size=28, color="#404040"),
               ticklabelstandoff=6, ticklabeloverflow="allow"),
)

fig.write_html("out.html")
